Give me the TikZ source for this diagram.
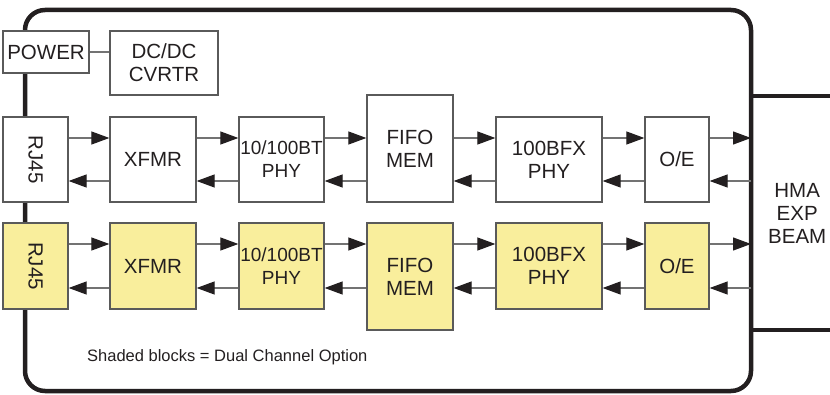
\documentclass[tikz,border=0pt]{standalone}
\usepackage{fontspec}
\setmainfont{Liberation Sans}
\usetikzlibrary{arrows.meta,positioning}
\definecolor{shade}{HTML}{F9EE9C}
\definecolor{edge}{HTML}{5A5A5A}
\definecolor{ink}{HTML}{231F20}

\begin{document}
\begin{tikzpicture}[
    x=1pt, y=-1pt,
    box/.style={rectangle, draw=edge, line width=1.3pt, fill=white, inner sep=0pt, align=center, text=ink, font=\fontsize{20.5}{23}\selectfont},
    dual/.style={box, fill=shade},
    frame/.style={draw=ink, line width=4.5pt},
    link/.style={draw=edge!85, line width=1.2pt},
    arrow/.style={link, -{Triangle[length=18pt, width=13pt, color=ink]}}
]
    \useasboundingbox (0,0) rectangle (830,395);

    % Enclosure and expansion beam
    \draw[frame, rounded corners=20pt] (25,10) rectangle (751,391);
    \node[inner sep=0pt, minimum width=92pt, minimum height=234pt, anchor=west, align=center, text=ink, font=\fontsize{20.5}{23}\selectfont] (hma) at (751,213) {HMA\\EXP\\BEAM};
    \draw[frame] (hma.north west) -- ++(79,0);
    \draw[frame] (hma.south west) -- ++(79,0);

    % Power
    \node[box, minimum width=86pt, minimum height=42pt] (pwr) at (46,52) {POWER};
    \node[box, minimum width=108pt, minimum height=64pt] (dcdc) at (164,63) {DC/DC\\CVRTR};
    \draw[link] (pwr.east) -- (pwr.east -| dcdc.west);

    % Channel 1
    \node[box, minimum width=65pt, minimum height=85pt] (rj1) at (35.5,159.5) {\rotatebox{-90}{RJ45}};
    \node[box, minimum width=86pt, minimum height=85pt] (xf1) at (153,159.5) {XFMR};
    \node[box, minimum width=85pt, minimum height=85pt, font=\fontsize{19}{23}\selectfont] (ph1) at (281.5,159.5) {10/100BT\\PHY};
    \node[box, minimum width=86pt, minimum height=107pt] (ff1) at (410,148.5) {FIFO\\MEM};
    \node[box, minimum width=106pt, minimum height=85pt] (bx1) at (549,159.5) {100BFX\\PHY};
    \node[box, minimum width=64pt, minimum height=85pt] (oe1) at (677,159.5) {O/E};

    % Channel 2 (option)
    \node[dual, minimum width=65pt, minimum height=86pt] (rj2) at (35.5,266) {\rotatebox{-90}{RJ45}};
    \node[dual, minimum width=86pt, minimum height=86pt] (xf2) at (153,266) {XFMR};
    \node[dual, minimum width=85pt, minimum height=86pt, font=\fontsize{19}{23}\selectfont] (ph2) at (281.5,266) {10/100BT\\PHY};
    \node[dual, minimum width=86pt, minimum height=107pt] (ff2) at (410,276.5) {FIFO\\MEM};
    \node[dual, minimum width=106pt, minimum height=86pt] (bx2) at (549,266) {100BFX\\PHY};
    \node[dual, minimum width=64pt, minimum height=86pt] (oe2) at (677,266) {O/E};

    % Signal lanes
    \coordinate (up1) at (0,138);
    \coordinate (dn1) at (0,181);
    \coordinate (up2) at (0,244);
    \coordinate (dn2) at (0,288);

    \foreach \r in {1,2}
        \foreach \a/\b in {rj\r/xf\r, xf\r/ph\r, ph\r/ff\r, ff\r/bx\r, bx\r/oe\r, oe\r/hma} {
            \draw[arrow] (\a.east |- up\r) -- (\b.west |- up\r);
            \draw[arrow] (\b.west |- dn\r) -- (\a.east |- dn\r);
        }

    \node[anchor=west, inner sep=0pt, text=ink, font=\fontsize{16.5}{19}\selectfont] (note) at (87,357) {Shaded blocks = Dual Channel Option};
\end{tikzpicture}
\end{document}
